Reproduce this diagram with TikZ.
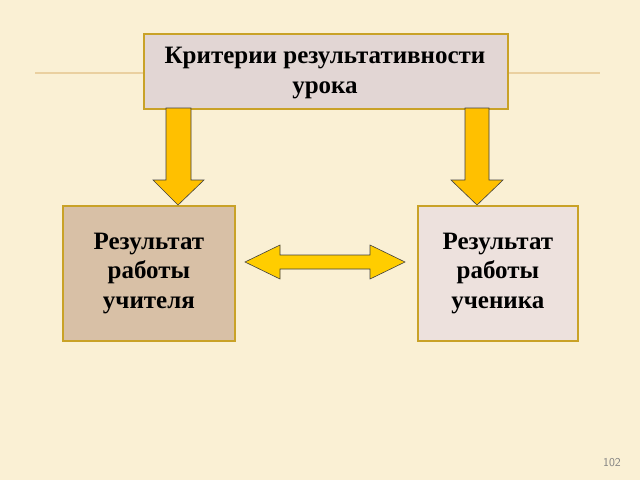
\documentclass[tikz,border=0pt]{standalone}
\usepackage{fontspec}
\setmainfont{Liberation Serif}
\usetikzlibrary{positioning}
\definecolor{bgcream}{HTML}{FAF0D4}
\definecolor{rimgold}{HTML}{C9A227}
\definecolor{topfill}{HTML}{E2D6D4}
\definecolor{leftfill}{HTML}{D8C0A6}
\definecolor{rightfill}{HTML}{EDE1DD}
\definecolor{arrowyel}{HTML}{FFC000}
\definecolor{rulecol}{HTML}{EAD0A0}
\tikzset{
  box/.style={draw=rimgold, line width=1.8pt, align=center, inner sep=0pt,
    font=\bfseries\fontsize{25}{29.5}\selectfont},
  blockarrow/.style={fill=arrowyel, draw=black!75, line width=0.6pt}
}
\begin{document}
\begin{tikzpicture}[x=1pt, y=-1pt]
    \useasboundingbox[fill=bgcream] (0,0) rectangle (640,480);
    % Header rule
    \draw[rulecol, line width=1.2pt] (35,73) -- (600,73);
    % Boxes
    \node[box, fill=topfill, minimum width=364pt, minimum height=75pt, anchor=north west] (crit) at (143,33) {};
    \node[font=\bfseries\fontsize{25}{30}\selectfont, align=center] (crittext) at (325,73) {Критерии результативности\\урока};
    \node[box, fill=leftfill, minimum width=172pt, minimum height=135pt, anchor=north west] (teach) at (62,205) {Результат\\работы\\учителя};
    \node[box, fill=rightfill, minimum width=160pt, minimum height=135pt, anchor=north west] (pupil) at (417,205) {Результат\\работы\\ученика};
    % Down arrows
    \draw[blockarrow] (166,108) -- (191,108) -- (191,180) -- (204,180) -- (178,205)
        -- (153,180) -- (166,180) -- cycle;
    \draw[blockarrow] (465,108) -- (489,108) -- (489,180) -- (503,180) -- (477,205)
        -- (451,180) -- (465,180) -- cycle;
    % Double arrow
    \draw[blockarrow, fill=arrowyel!80!yellow] (245,262) -- (280,245) -- (280,255) -- (370,255)
        -- (370,245) -- (405,262) -- (370,279) -- (370,269) -- (280,269)
        -- (280,279) -- cycle;
    % Page number
    \node[gray, font=\sffamily\fontsize{12}{14}\selectfont] (pg) at (612,463) {102};
\end{tikzpicture}
\end{document}
